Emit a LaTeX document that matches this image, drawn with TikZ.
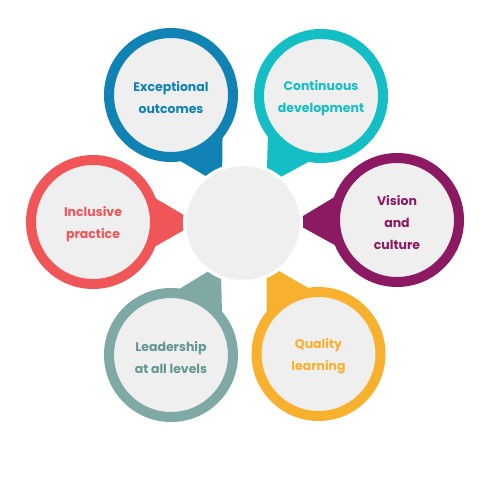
\documentclass[tikz,border=0pt]{standalone}
\usepackage{fontspec}
\setmainfont{Poppins}
\usetikzlibrary{calc}
\definecolor{cblue}{RGB}{17,130,180}
\definecolor{cteal}{RGB}{19,190,196}
\definecolor{cpurple}{RGB}{139,26,99}
\definecolor{cred}{RGB}{240,85,88}
\definecolor{csage}{RGB}{127,169,164}
\definecolor{csagetext}{RGB}{100,150,148}
\definecolor{cyellow}{RGB}{247,177,47}
\definecolor{cfill}{RGB}{239,239,239}
\tikzset{
  bubble/.style={circle, fill=cfill, line width=10pt, minimum size=124pt, inner sep=0pt},
  bubbletext/.style={align=center, inner sep=0pt, font=\fontsize{12.5}{22}\selectfont\bfseries},
  hub/.style={circle, fill=cfill, draw=white, line width=3pt, minimum size=117pt, inner sep=0pt}
}
\newcommand{\bubblepin}[6]{%
  \coordinate (#1c) at (#2,#3);
  \coordinate (#1a) at ($(#1c)!104pt!(C)$);
  \fill[#4] (#1a) -- ($(#1a)!90pt!30:(#1c)$) -- (#1c) -- ($(#1a)!90pt!-30:(#1c)$) -- cycle;
  \node[bubble, draw=#4] (#1) at (#1c) {};
  \node[bubbletext, text=#5] (#1t) at ($(#1c)+(0,2.5)$) {#6};
}
\begin{document}
\begin{tikzpicture}[x=1pt,y=-1pt]
\useasboundingbox[fill=white] (0,0) rectangle (490,490);
\coordinate (C) at (243,223);
\bubblepin{exc}{171}{95}{cblue}{cblue}{Exceptional\\outcomes}
\bubblepin{con}{321}{96}{cteal}{cteal}{Continuous\\development}
\bubblepin{vis}{397}{220}{cpurple}{cpurple}{Vision\\and\\culture}
\bubblepin{inc}{93}{222}{cred}{cred}{Inclusive\\practice}
\bubblepin{lea}{171}{355}{csage}{csagetext}{Leadership\\at all levels}
\bubblepin{qua}{318.5}{354}{cyellow}{cyellow}{Quality\\learning}
\node[hub] (hubc) at (C) {};
\end{tikzpicture}
\end{document}
